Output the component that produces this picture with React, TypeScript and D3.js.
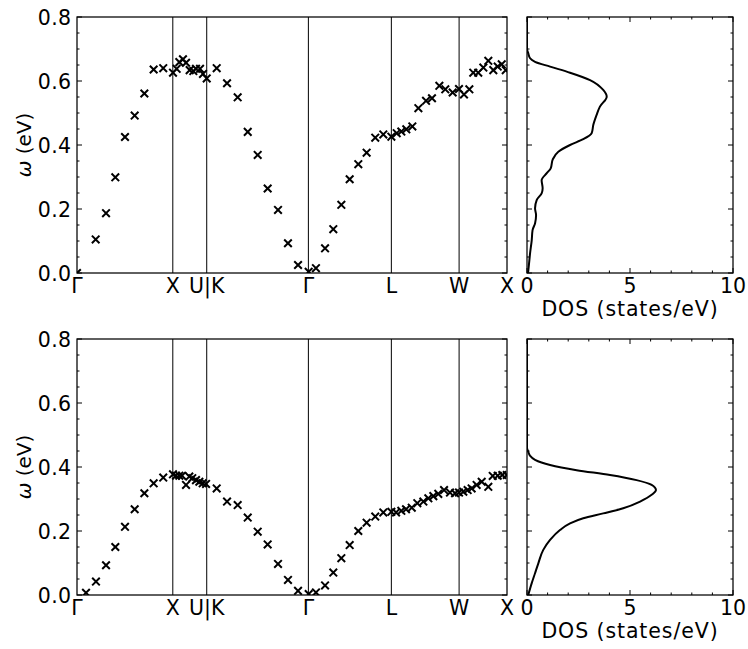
import React from 'react';
import * as d3 from 'd3';

// High-symmetry points along the k-path (path length, units of 2π/a)
const kTickPos = [0, 1.0, 1.354, 2.415, 3.281, 3.988, 4.488];
const kTickLabels = ['Γ', 'X', 'U|K', 'Γ', 'L', 'W', 'X'];

const yTicks = [0, 0.2, 0.4, 0.6, 0.8];
const yTickLabels = ['0.0', '0.2', '0.4', '0.6', '0.8'];
const dosTicks = [0, 5, 10];
const dosTickLabels = ['0', '5', '10'];

// Top panel dispersion
const topK = [0, 0.195, 0.303, 0.40, 0.501, 0.602, 0.703, 0.80, 0.90, 1.002, 1.04, 1.068, 1.106, 1.138, 1.176, 1.214, 1.242, 1.284, 1.315, 1.354, 1.458, 1.566, 1.677, 1.782, 1.886, 1.990, 2.098, 2.202, 2.307, 2.418, 2.494, 2.589, 2.675, 2.759, 2.846, 2.936, 3.023, 3.113, 3.197, 3.281, 3.337, 3.385, 3.437, 3.500, 3.563, 3.643, 3.705, 3.782, 3.844, 3.921, 3.987, 4.039, 4.095, 4.136, 4.188, 4.241, 4.293, 4.345, 4.391, 4.433, 4.475];
const topW = [0.0, 0.105, 0.187, 0.299, 0.425, 0.492, 0.561, 0.636, 0.640, 0.626, 0.638, 0.659, 0.668, 0.657, 0.634, 0.631, 0.638, 0.638, 0.622, 0.608, 0.640, 0.593, 0.549, 0.441, 0.369, 0.264, 0.197, 0.093, 0.025, 0.004, 0.015, 0.077, 0.137, 0.213, 0.293, 0.340, 0.376, 0.423, 0.433, 0.426, 0.437, 0.442, 0.449, 0.458, 0.515, 0.538, 0.546, 0.585, 0.574, 0.564, 0.575, 0.558, 0.574, 0.626, 0.626, 0.642, 0.663, 0.634, 0.645, 0.652, 0.634];

// Bottom panel dispersion
const botK = [0.094, 0.198, 0.303, 0.40, 0.501, 0.602, 0.703, 0.80, 0.90, 1.002, 1.033, 1.068, 1.096, 1.138, 1.172, 1.203, 1.242, 1.277, 1.312, 1.347, 1.458, 1.566, 1.677, 1.782, 1.886, 1.990, 2.098, 2.202, 2.307, 2.418, 2.494, 2.589, 2.675, 2.759, 2.846, 2.936, 3.023, 3.113, 3.197, 3.281, 3.330, 3.385, 3.434, 3.494, 3.552, 3.615, 3.667, 3.719, 3.771, 3.831, 3.893, 3.946, 3.987, 4.032, 4.077, 4.119, 4.171, 4.224, 4.293, 4.339, 4.391, 4.439, 4.485];
const botW = [0.007, 0.042, 0.093, 0.150, 0.213, 0.268, 0.318, 0.349, 0.367, 0.377, 0.373, 0.373, 0.373, 0.344, 0.370, 0.365, 0.359, 0.354, 0.349, 0.347, 0.333, 0.292, 0.281, 0.242, 0.198, 0.158, 0.097, 0.047, 0.013, 0.003, 0.008, 0.030, 0.070, 0.115, 0.156, 0.200, 0.226, 0.245, 0.258, 0.260, 0.258, 0.263, 0.268, 0.273, 0.287, 0.292, 0.302, 0.309, 0.316, 0.328, 0.320, 0.318, 0.320, 0.323, 0.328, 0.333, 0.344, 0.354, 0.338, 0.372, 0.373, 0.375, 0.375];

// Top DOS
const topDosE = [0, 0.03, 0.062, 0.103, 0.134, 0.155, 0.181, 0.202, 0.228, 0.249, 0.265, 0.29, 0.312, 0.327, 0.355, 0.379, 0.40, 0.418, 0.437, 0.463, 0.494, 0.52, 0.551, 0.572, 0.603, 0.626, 0.645, 0.66, 0.671, 0.687, 0.70, 0.8];
const topDosV = [0.05, 0.1, 0.15, 0.23, 0.27, 0.39, 0.44, 0.39, 0.47, 0.71, 0.76, 0.71, 0.96, 1.15, 1.25, 1.52, 2.09, 2.73, 3.14, 3.22, 3.38, 3.54, 3.87, 3.70, 3.06, 2.09, 1.12, 0.39, 0.15, 0.06, 0, 0];

// Bottom DOS
const botDosE = [0, 0.037, 0.068, 0.099, 0.141, 0.172, 0.203, 0.224, 0.240, 0.255, 0.271, 0.292, 0.313, 0.328, 0.344, 0.359, 0.375, 0.39, 0.406, 0.422, 0.435, 0.448, 0.46, 0.8];
const botDosV = [0.06, 0.23, 0.39, 0.55, 0.79, 1.12, 1.60, 2.09, 2.73, 3.70, 4.67, 5.49, 6.05, 6.26, 6.05, 5.32, 4.03, 2.41, 1.12, 0.39, 0.15, 0.06, 0, 0];

const FONT = 'DejaVu Sans, sans-serif';
const FS = 20.5;
const BX0 = 77, BX1 = 507, DX0 = 527, DX1 = 733;

const rows = [
  { top: 17, bottom: 273, k: topK, w: topW, de: topDosE, dv: topDosV },
  { top: 339, bottom: 595, k: botK, w: botW, de: botDosE, dv: botDosV },
];

const MAJ = 5, MIN = 2.5;

function Row({ r, idx }: { r: any; idx: number }) {
  const x = d3.scaleLinear().domain([0, kTickPos[kTickPos.length - 1]]).range([BX0, BX1]);
  const y = d3.scaleLinear().domain([0, 0.8]).range([r.bottom, r.top]);
  const xd = d3.scaleLinear().domain([0, 10]).range([DX0, DX1]);
  const minorY = d3.range(0, 0.8001, 0.05).filter((v) => Math.abs(v / 0.2 - Math.round(v / 0.2)) > 1e-6);
  const minorD = d3.range(1, 10).filter((v) => v !== 5);
  const line = d3
    .line<[number, number]>()
    .x((d) => xd(d[0]))
    .y((d) => y(d[1]))
    .curve(d3.curveMonotoneY);
  const dosPts: [number, number][] = r.de.map((e: number, i: number) => [r.dv[i], e]);
  const clipB = `clipB${idx}`;
  const clipD = `clipD${idx}`;
  const yTickMarks = (x0: number, x1: number) => (
    <g stroke="#000" strokeWidth={1}>
      {yTicks.map((v) => (
        <g key={'M' + v}>
          <line x1={x0} x2={x0 + MAJ} y1={y(v)} y2={y(v)} />
          <line x1={x1} x2={x1 - MAJ} y1={y(v)} y2={y(v)} />
        </g>
      ))}
      {minorY.map((v) => (
        <g key={'m' + v}>
          <line x1={x0} x2={x0 + MIN} y1={y(v)} y2={y(v)} />
          <line x1={x1} x2={x1 - MIN} y1={y(v)} y2={y(v)} />
        </g>
      ))}
    </g>
  );
  return (
    <g>
      <defs>
        <clipPath id={clipB}>
          <rect x={BX0} y={r.top} width={BX1 - BX0} height={r.bottom - r.top} />
        </clipPath>
        <clipPath id={clipD}>
          <rect x={DX0} y={r.top} width={DX1 - DX0} height={r.bottom - r.top} />
        </clipPath>
      </defs>
      {kTickPos.slice(1, -1).map((k, i) => (
        <line key={i} x1={x(k)} x2={x(k)} y1={r.top} y2={r.bottom} stroke="#000" strokeWidth={1} />
      ))}
      <g clipPath={`url(#${clipB})`} stroke="#000" strokeWidth={2} fill="none">
        {r.k.map((k: number, i: number) => (
          <path
            key={i}
            transform={`translate(${x(k)},${y(r.w[i])})`}
            d="M-3.8,-3.8L3.8,3.8M-3.8,3.8L3.8,-3.8"
          />
        ))}
      </g>
      {yTickMarks(BX0, BX1)}
      <rect x={BX0} y={r.top} width={BX1 - BX0} height={r.bottom - r.top} fill="none" stroke="#000" strokeWidth={1.25} />
      {yTicks.map((v, i) => (
        <text key={i} x={71.5} y={y(v) + 8} textAnchor="end" fontFamily={FONT} fontSize={FS} letterSpacing={0.4}>
          {yTickLabels[i]}
        </text>
      ))}
      {kTickPos.map((k, i) => (
        <text key={i} x={x(k)} y={r.bottom + 20} textAnchor="middle" fontFamily={FONT} fontSize={FS}>
          {kTickLabels[i]}
        </text>
      ))}
      <text
        transform={`translate(31,${(r.top + r.bottom) / 2}) rotate(-90)`}
        textAnchor="middle"
        fontFamily={FONT}
        fontSize={20}
      >
        <tspan fontStyle="italic">ω</tspan> (eV)
      </text>
      <path d={line(dosPts) || ''} fill="none" stroke="#000" strokeWidth={2} clipPath={`url(#${clipD})`} />
      {yTickMarks(DX0, DX1)}
      <g stroke="#000" strokeWidth={1}>
        {dosTicks.map((v) => (
          <g key={'M' + v}>
            <line x1={xd(v)} x2={xd(v)} y1={r.bottom} y2={r.bottom - MAJ} />
            <line x1={xd(v)} x2={xd(v)} y1={r.top} y2={r.top + MAJ} />
          </g>
        ))}
        {minorD.map((v) => (
          <g key={'m' + v}>
            <line x1={xd(v)} x2={xd(v)} y1={r.bottom} y2={r.bottom - MIN} />
            <line x1={xd(v)} x2={xd(v)} y1={r.top} y2={r.top + MIN} />
          </g>
        ))}
      </g>
      <rect x={DX0} y={r.top} width={DX1 - DX0} height={r.bottom - r.top} fill="none" stroke="#000" strokeWidth={1.25} />
      {dosTicks.map((v, i) => (
        <text key={i} x={xd(v)} y={r.bottom + 20} textAnchor="middle" fontFamily={FONT} fontSize={FS}>
          {dosTickLabels[i]}
        </text>
      ))}
      <text x={(DX0 + DX1) / 2} y={r.bottom + 43} textAnchor="middle" fontFamily={FONT} fontSize={20.5} letterSpacing={0.9}>
        DOS (states/eV)
      </text>
    </g>
  );
}

export default function App() {
  return (
    <svg
      width={748}
      height={649}
      style={{ position: 'absolute', left: 0, top: 0, background: '#fff' }}
    >
      <rect width={748} height={649} fill="#fff" />
      {rows.map((r, i) => (
        <Row key={i} r={r} idx={i} />
      ))}
    </svg>
  );
}
